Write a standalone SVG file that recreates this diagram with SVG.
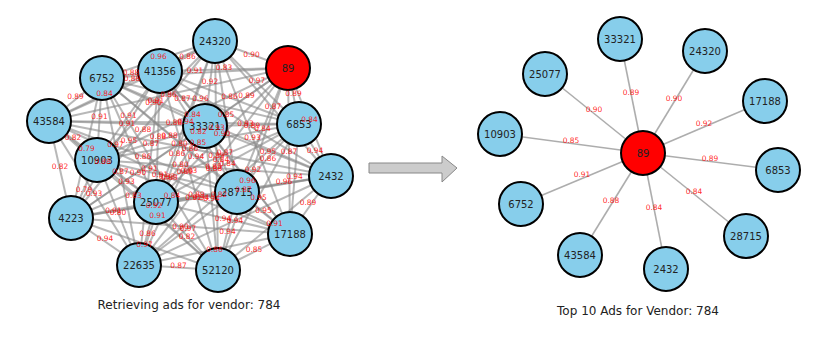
<svg xmlns="http://www.w3.org/2000/svg" width="830" height="339" viewBox="0 0 830 339">
<style>
.e{stroke:#888;stroke-opacity:0.6;stroke-width:2}
.er{stroke:#999;stroke-opacity:0.8;stroke-width:1.6}
.n{fill:#87CEEB;stroke:#000;stroke-width:2}
.r{fill:#FF0000;stroke:#000;stroke-width:2}
.t{font-family:"DejaVu Sans",sans-serif;font-size:10px;fill:#222;text-anchor:middle;dominant-baseline:central}
.l{font-family:"DejaVu Sans",sans-serif;font-size:7.5px;fill:#ff0000;fill-opacity:0.85;text-anchor:middle;dominant-baseline:central}
.ti{font-family:"DejaVu Sans",sans-serif;font-size:12px;fill:#222;text-anchor:middle}
</style>
<rect width="830" height="339" fill="#fff"/>
<g id="connectors-left">
<line class="e" x1="215" y1="41" x2="288" y2="68"/><line class="e" x1="215" y1="41" x2="160" y2="71"/><line class="e" x1="215" y1="41" x2="102" y2="78"/><line class="e" x1="215" y1="41" x2="49" y2="121"/><line class="e" x1="215" y1="41" x2="299" y2="124"/><line class="e" x1="215" y1="41" x2="205" y2="126"/><line class="e" x1="215" y1="41" x2="97" y2="160"/><line class="e" x1="215" y1="41" x2="331" y2="176"/><line class="e" x1="215" y1="41" x2="237" y2="192"/><line class="e" x1="215" y1="41" x2="156" y2="202"/><line class="e" x1="215" y1="41" x2="71" y2="218"/><line class="e" x1="215" y1="41" x2="290" y2="234"/><line class="e" x1="215" y1="41" x2="139" y2="265"/><line class="e" x1="215" y1="41" x2="218" y2="270"/>
<line class="e" x1="288" y1="68" x2="160" y2="71"/><line class="e" x1="288" y1="68" x2="102" y2="78"/><line class="e" x1="288" y1="68" x2="49" y2="121"/><line class="e" x1="288" y1="68" x2="299" y2="124"/><line class="e" x1="288" y1="68" x2="205" y2="126"/><line class="e" x1="288" y1="68" x2="97" y2="160"/><line class="e" x1="288" y1="68" x2="331" y2="176"/><line class="e" x1="288" y1="68" x2="237" y2="192"/><line class="e" x1="288" y1="68" x2="156" y2="202"/><line class="e" x1="288" y1="68" x2="71" y2="218"/><line class="e" x1="288" y1="68" x2="290" y2="234"/><line class="e" x1="288" y1="68" x2="139" y2="265"/><line class="e" x1="288" y1="68" x2="218" y2="270"/>
<line class="e" x1="160" y1="71" x2="102" y2="78"/><line class="e" x1="160" y1="71" x2="49" y2="121"/><line class="e" x1="160" y1="71" x2="299" y2="124"/><line class="e" x1="160" y1="71" x2="205" y2="126"/><line class="e" x1="160" y1="71" x2="97" y2="160"/><line class="e" x1="160" y1="71" x2="331" y2="176"/><line class="e" x1="160" y1="71" x2="237" y2="192"/><line class="e" x1="160" y1="71" x2="156" y2="202"/><line class="e" x1="160" y1="71" x2="71" y2="218"/><line class="e" x1="160" y1="71" x2="290" y2="234"/><line class="e" x1="160" y1="71" x2="139" y2="265"/><line class="e" x1="160" y1="71" x2="218" y2="270"/>
<line class="e" x1="102" y1="78" x2="49" y2="121"/><line class="e" x1="102" y1="78" x2="299" y2="124"/><line class="e" x1="102" y1="78" x2="205" y2="126"/><line class="e" x1="102" y1="78" x2="97" y2="160"/><line class="e" x1="102" y1="78" x2="331" y2="176"/><line class="e" x1="102" y1="78" x2="237" y2="192"/><line class="e" x1="102" y1="78" x2="156" y2="202"/><line class="e" x1="102" y1="78" x2="71" y2="218"/><line class="e" x1="102" y1="78" x2="290" y2="234"/><line class="e" x1="102" y1="78" x2="139" y2="265"/><line class="e" x1="102" y1="78" x2="218" y2="270"/>
<line class="e" x1="49" y1="121" x2="299" y2="124"/><line class="e" x1="49" y1="121" x2="205" y2="126"/><line class="e" x1="49" y1="121" x2="97" y2="160"/><line class="e" x1="49" y1="121" x2="331" y2="176"/><line class="e" x1="49" y1="121" x2="237" y2="192"/><line class="e" x1="49" y1="121" x2="156" y2="202"/><line class="e" x1="49" y1="121" x2="71" y2="218"/><line class="e" x1="49" y1="121" x2="290" y2="234"/><line class="e" x1="49" y1="121" x2="139" y2="265"/><line class="e" x1="49" y1="121" x2="218" y2="270"/>
<line class="e" x1="299" y1="124" x2="205" y2="126"/><line class="e" x1="299" y1="124" x2="97" y2="160"/><line class="e" x1="299" y1="124" x2="331" y2="176"/><line class="e" x1="299" y1="124" x2="237" y2="192"/><line class="e" x1="299" y1="124" x2="156" y2="202"/><line class="e" x1="299" y1="124" x2="71" y2="218"/><line class="e" x1="299" y1="124" x2="290" y2="234"/><line class="e" x1="299" y1="124" x2="139" y2="265"/><line class="e" x1="299" y1="124" x2="218" y2="270"/>
<line class="e" x1="205" y1="126" x2="97" y2="160"/><line class="e" x1="205" y1="126" x2="331" y2="176"/><line class="e" x1="205" y1="126" x2="237" y2="192"/><line class="e" x1="205" y1="126" x2="156" y2="202"/><line class="e" x1="205" y1="126" x2="71" y2="218"/><line class="e" x1="205" y1="126" x2="290" y2="234"/><line class="e" x1="205" y1="126" x2="139" y2="265"/><line class="e" x1="205" y1="126" x2="218" y2="270"/>
<line class="e" x1="97" y1="160" x2="331" y2="176"/><line class="e" x1="97" y1="160" x2="237" y2="192"/><line class="e" x1="97" y1="160" x2="156" y2="202"/><line class="e" x1="97" y1="160" x2="71" y2="218"/><line class="e" x1="97" y1="160" x2="290" y2="234"/><line class="e" x1="97" y1="160" x2="139" y2="265"/><line class="e" x1="97" y1="160" x2="218" y2="270"/>
<line class="e" x1="331" y1="176" x2="237" y2="192"/><line class="e" x1="331" y1="176" x2="156" y2="202"/><line class="e" x1="331" y1="176" x2="71" y2="218"/><line class="e" x1="331" y1="176" x2="290" y2="234"/><line class="e" x1="331" y1="176" x2="139" y2="265"/><line class="e" x1="331" y1="176" x2="218" y2="270"/>
<line class="e" x1="237" y1="192" x2="156" y2="202"/><line class="e" x1="237" y1="192" x2="71" y2="218"/><line class="e" x1="237" y1="192" x2="290" y2="234"/><line class="e" x1="237" y1="192" x2="139" y2="265"/><line class="e" x1="237" y1="192" x2="218" y2="270"/>
<line class="e" x1="156" y1="202" x2="71" y2="218"/><line class="e" x1="156" y1="202" x2="290" y2="234"/><line class="e" x1="156" y1="202" x2="139" y2="265"/><line class="e" x1="156" y1="202" x2="218" y2="270"/>
<line class="e" x1="71" y1="218" x2="290" y2="234"/><line class="e" x1="71" y1="218" x2="139" y2="265"/><line class="e" x1="71" y1="218" x2="218" y2="270"/>
<line class="e" x1="290" y1="234" x2="139" y2="265"/><line class="e" x1="290" y1="234" x2="218" y2="270"/>
<line class="e" x1="139" y1="265" x2="218" y2="270"/>
</g>
<g id="connectors-right">
<line class="er" x1="643" y1="153" x2="620" y2="39"/>
<line class="er" x1="643" y1="153" x2="545" y2="74"/>
<line class="er" x1="643" y1="153" x2="500" y2="134"/>
<line class="er" x1="643" y1="153" x2="705" y2="51"/>
<line class="er" x1="643" y1="153" x2="765" y2="101"/>
<line class="er" x1="643" y1="153" x2="778" y2="170"/>
<line class="er" x1="643" y1="153" x2="746" y2="236"/>
<line class="er" x1="643" y1="153" x2="666" y2="269"/>
<line class="er" x1="643" y1="153" x2="580" y2="255"/>
<line class="er" x1="643" y1="153" x2="521" y2="204"/>
</g>
<g id="arrow">
<polygon points="369,163 442,163 442,156 457,168 442,182 442,173 369,173" fill="#cccccc" stroke="#888" stroke-width="1"/>
</g>
<g id="L-24320"><circle class="n" cx="215" cy="41" r="22"/><text class="t" x="215" y="41">24320</text></g>
<g id="L-89"><circle class="r" cx="288" cy="68" r="22"/><text class="t" x="288" y="68">89</text></g>
<g id="L-41356"><circle class="n" cx="160" cy="71" r="22"/><text class="t" x="160" y="71">41356</text></g>
<g id="L-6752"><circle class="n" cx="102" cy="78" r="22"/><text class="t" x="102" y="78">6752</text></g>
<g id="L-43584"><circle class="n" cx="49" cy="121" r="22"/><text class="t" x="49" y="121">43584</text></g>
<g id="L-6853"><circle class="n" cx="299" cy="124" r="22"/><text class="t" x="299" y="124">6853</text></g>
<g id="L-33321"><circle class="n" cx="205" cy="126" r="22"/><text class="t" x="205" y="126">33321</text></g>
<g id="L-10903"><circle class="n" cx="97" cy="160" r="22"/><text class="t" x="97" y="160">10903</text></g>
<g id="L-2432"><circle class="n" cx="331" cy="176" r="22"/><text class="t" x="331" y="176">2432</text></g>
<g id="L-28715"><circle class="n" cx="237" cy="192" r="22"/><text class="t" x="237" y="192">28715</text></g>
<g id="L-25077"><circle class="n" cx="156" cy="202" r="22"/><text class="t" x="156" y="202">25077</text></g>
<g id="L-4223"><circle class="n" cx="71" cy="218" r="22"/><text class="t" x="71" y="218">4223</text></g>
<g id="L-17188"><circle class="n" cx="290" cy="234" r="22"/><text class="t" x="290" y="234">17188</text></g>
<g id="L-22635"><circle class="n" cx="139" cy="265" r="22"/><text class="t" x="139" y="265">22635</text></g>
<g id="L-52120"><circle class="n" cx="218" cy="270" r="22"/><text class="t" x="218" y="270">52120</text></g>
<g id="labels-left">
<text class="l" x="251.5" y="54.5">0.90</text><text class="l" x="187.5" y="56">0.86</text><text class="l" x="158.5" y="56">0.96</text><text class="l" x="132" y="78">0.88</text><text class="l" x="257" y="80">0.97</text><text class="l" x="210" y="81">0.92</text><text class="l" x="156" y="100.5">0.91</text><text class="l" x="273" y="106">0.87</text><text class="l" x="226" y="114">0.85</text><text class="l" x="185.5" y="121.5">0.94</text><text class="l" x="143" y="129.5">0.88</text><text class="l" x="252.5" y="137.5">0.93</text><text class="l" x="177" y="153">0.86</text><text class="l" x="216.5" y="155.5">0.89</text>
<text class="l" x="224" y="67">0.83</text><text class="l" x="195" y="70">0.91</text><text class="l" x="168.5" y="94.5">0.86</text><text class="l" x="293.5" y="93">0.89</text><text class="l" x="246.5" y="95">0.89</text><text class="l" x="192.5" y="114">0.84</text><text class="l" x="309.5" y="119">0.84</text><text class="l" x="262.5" y="128">0.84</text><text class="l" x="222" y="133">0.90</text><text class="l" x="179.5" y="143">0.80</text><text class="l" x="289" y="151">0.87</text><text class="l" x="213.5" y="166.5">0.85</text><text class="l" x="253" y="169">0.92</text>
<text class="l" x="131" y="72">0.88</text><text class="l" x="104.5" y="93">0.84</text><text class="l" x="229.5" y="96">0.86</text><text class="l" x="182.5" y="98.5">0.87</text><text class="l" x="128.5" y="115.5">0.91</text><text class="l" x="245.5" y="123.5">0.93</text><text class="l" x="198.5" y="131.5">0.82</text><text class="l" x="158" y="136.5">0.88</text><text class="l" x="115.5" y="144.5">0.97</text><text class="l" x="225" y="152.5">0.87</text><text class="l" x="149.5" y="168">0.91</text><text class="l" x="189" y="170.5">0.83</text>
<text class="l" x="75.5" y="96">0.89</text><text class="l" x="200.5" y="98">0.96</text><text class="l" x="153.5" y="102">0.90</text><text class="l" x="99.5" y="116">0.91</text><text class="l" x="216.5" y="127">0.93</text><text class="l" x="169.5" y="135">0.88</text><text class="l" x="129" y="140">0.95</text><text class="l" x="86.5" y="148">0.79</text><text class="l" x="196" y="156">0.94</text><text class="l" x="120.5" y="171.5">0.87</text><text class="l" x="160" y="174">0.91</text>
<text class="l" x="174" y="122.5">0.88</text><text class="l" x="127" y="123.5">0.91</text><text class="l" x="73" y="137">0.82</text><text class="l" x="190" y="148.5">0.86</text><text class="l" x="143" y="156.5">0.86</text><text class="l" x="102.5" y="161.5">0.88</text><text class="l" x="60" y="166">0.82</text><text class="l" x="169.5" y="177.5">0.83</text><text class="l" x="94" y="193">0.93</text><text class="l" x="133.5" y="195.5">0.83</text>
<text class="l" x="252" y="125">0.89</text><text class="l" x="198" y="142">0.85</text><text class="l" x="315" y="150">0.94</text><text class="l" x="268" y="158">0.86</text><text class="l" x="227.5" y="163">0.84</text><text class="l" x="185" y="171">0.89</text><text class="l" x="294.5" y="176">0.94</text><text class="l" x="219" y="194.5">0.82</text><text class="l" x="258.5" y="197">0.95</text>
<text class="l" x="151" y="143">0.87</text><text class="l" x="268" y="151">0.95</text><text class="l" x="221" y="159">0.84</text><text class="l" x="180.5" y="164">0.80</text><text class="l" x="138" y="172">0.90</text><text class="l" x="247.5" y="180">0.96</text><text class="l" x="172" y="195.5">0.84</text><text class="l" x="211.5" y="198">0.94</text>
<text class="l" x="214" y="168">0.88</text><text class="l" x="167" y="176">0.83</text><text class="l" x="126.5" y="181">0.93</text><text class="l" x="84" y="189">0.79</text><text class="l" x="193.5" y="197">0.91</text><text class="l" x="118" y="212.5">0.80</text><text class="l" x="157.5" y="215">0.91</text>
<text class="l" x="284" y="181">0.96</text><text class="l" x="243.5" y="189">0.87</text><text class="l" x="201" y="197">0.94</text><text class="l" x="308" y="202">0.89</text><text class="l" x="235" y="220.5">0.94</text><text class="l" x="274.5" y="223">0.91</text>
<text class="l" x="196.5" y="194">0.89</text><text class="l" x="154" y="205">0.92</text><text class="l" x="263.5" y="210">0.95</text><text class="l" x="188" y="228.5">0.97</text><text class="l" x="227.5" y="231">0.94</text>
<text class="l" x="113.5" y="210">0.91</text><text class="l" x="223" y="218">0.94</text><text class="l" x="147.5" y="233.5">0.86</text><text class="l" x="187" y="236">0.82</text>
<text class="l" x="180.5" y="226">0.90</text><text class="l" x="105" y="238">0.94</text><text class="l" x="144.5" y="244">0.97</text>
<text class="l" x="214.5" y="249.5">0.86</text><text class="l" x="254" y="249">0.85</text>
<text class="l" x="178.5" y="265">0.87</text>
</g>
<g id="R-89"><circle class="r" cx="643" cy="153" r="22"/><text class="t" x="643" y="153">89</text></g>
<g id="R-33321"><circle class="n" cx="620" cy="39" r="22"/><text class="t" x="620" y="39">33321</text></g>
<g id="R-25077"><circle class="n" cx="545" cy="74" r="22"/><text class="t" x="545" y="74">25077</text></g>
<g id="R-10903"><circle class="n" cx="500" cy="134" r="22"/><text class="t" x="500" y="134">10903</text></g>
<g id="R-24320"><circle class="n" cx="705" cy="51" r="22"/><text class="t" x="705" y="51">24320</text></g>
<g id="R-17188"><circle class="n" cx="765" cy="101" r="22"/><text class="t" x="765" y="101">17188</text></g>
<g id="R-6853"><circle class="n" cx="778" cy="170" r="22"/><text class="t" x="778" y="170">6853</text></g>
<g id="R-28715"><circle class="n" cx="746" cy="236" r="22"/><text class="t" x="746" y="236">28715</text></g>
<g id="R-2432"><circle class="n" cx="666" cy="269" r="22"/><text class="t" x="666" y="269">2432</text></g>
<g id="R-43584"><circle class="n" cx="580" cy="255" r="22"/><text class="t" x="580" y="255">43584</text></g>
<g id="R-6752"><circle class="n" cx="521" cy="204" r="22"/><text class="t" x="521" y="204">6752</text></g>
<g id="labels-right">
<text class="l" x="631" y="92">0.89</text>
<text class="l" x="594" y="109">0.90</text>
<text class="l" x="571" y="140">0.85</text>
<text class="l" x="674" y="98">0.90</text>
<text class="l" x="704" y="123">0.92</text>
<text class="l" x="710" y="158">0.89</text>
<text class="l" x="694" y="191">0.84</text>
<text class="l" x="654" y="207">0.84</text>
<text class="l" x="611" y="200">0.88</text>
<text class="l" x="582" y="174">0.91</text>
</g>
<text class="ti" x="189" y="309">Retrieving ads for vendor: 784</text>
<text class="ti" x="638" y="315">Top 10 Ads for Vendor: 784</text>
</svg>
